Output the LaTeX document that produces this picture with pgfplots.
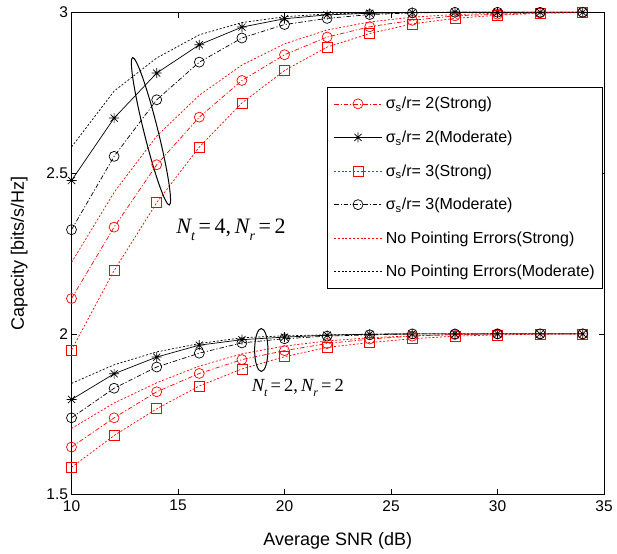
\documentclass[border=0pt]{standalone}
\usepackage{pgfplots}
\usepackage{pgfplotstable}
\pgfplotsset{compat=1.18}
\usepackage{fontspec}
\setmainfont{Liberation Sans}
\newfontfamily\serifit{Liberation Serif}
\usetikzlibrary{shapes.geometric}

% eight-ray star marker
\pgfdeclareplotmark{mstar}{%
  \pgfpathmoveto{\pgfqpoint{-\pgfplotmarksize}{0pt}}%
  \pgfpathlineto{\pgfqpoint{\pgfplotmarksize}{0pt}}%
  \pgfpathmoveto{\pgfqpoint{0pt}{-\pgfplotmarksize}}%
  \pgfpathlineto{\pgfqpoint{0pt}{\pgfplotmarksize}}%
  \pgfpathmoveto{\pgfqpoint{-.707\pgfplotmarksize}{-.707\pgfplotmarksize}}%
  \pgfpathlineto{\pgfqpoint{.707\pgfplotmarksize}{.707\pgfplotmarksize}}%
  \pgfpathmoveto{\pgfqpoint{-.707\pgfplotmarksize}{.707\pgfplotmarksize}}%
  \pgfpathlineto{\pgfqpoint{.707\pgfplotmarksize}{-.707\pgfplotmarksize}}%
  \pgfusepathqstroke}

% Capacity vs. average SNR, N_t = 4, N_r = 2
\pgfplotstableread{
snr  s2s   s2m   s3s   s3m   npes  npem
10   2.110 2.477 1.950 2.324 2.222 2.581
12   2.332 2.671 2.197 2.552 2.440 2.755
14   2.526 2.811 2.408 2.728 2.615 2.858
16   2.674 2.899 2.581 2.845 2.742 2.930
18   2.788 2.954 2.718 2.920 2.836 2.968
20   2.868 2.980 2.819 2.962 2.902 2.986
22   2.923 2.992 2.892 2.981 2.945 2.995
24   2.955 2.997 2.934 2.993 2.970 2.998
26   2.975 2.999 2.964 2.998 2.985 3.000
28   2.989 3.000 2.981 3.000 2.993 3.000
30   2.994 3.000 2.991 3.000 2.997 3.000
32   2.998 3.000 2.997 3.000 2.999 3.000
34   3.000 3.000 2.999 3.000 3.000 3.000
}\tabfour

% Capacity vs. average SNR, N_t = 2, N_r = 2
\pgfplotstableread{
snr  s2s   s2m   s3s   s3m   npes  npem
10   1.648 1.796 1.585 1.739 1.706 1.846
12   1.739 1.876 1.684 1.831 1.785 1.904
14   1.820 1.928 1.767 1.897 1.848 1.944
16   1.877 1.965 1.838 1.940 1.900 1.970
18   1.920 1.982 1.891 1.972 1.938 1.988
20   1.948 1.990 1.929 1.985 1.962 1.994
22   1.970 1.996 1.958 1.993 1.978 1.997
24   1.984 1.999 1.973 1.997 1.988 1.999
26   1.993 2.000 1.985 2.000 1.994 2.000
28   1.998 2.000 1.993 2.000 1.998 2.000
30   2.000 2.000 1.997 2.000 2.000 2.000
32   2.000 2.000 1.999 2.000 2.000 2.000
34   2.000 2.000 2.000 2.000 2.000 2.000
}\tabtwo

\pgfplotsset{
  dashdot/.style={dash pattern=on 4.5pt off 2pt on 1.2pt off 2pt},
  mdot/.style={dash pattern=on 2pt off 1.8pt},
  s2strong/.style={red, line width=0.7pt, dashdot, mark=o, mark size=5pt, mark options={solid}},
  s2mod/.style={black, line width=0.7pt, solid, mark=mstar, mark size=5pt, mark options={solid}},
  s3strong/.style={red, line width=0.7pt, mdot, mark=square, mark size=5pt, mark options={solid}},
  s3mod/.style={black, line width=0.7pt, dashdot, mark=o, mark size=5pt, mark options={solid}},
  npestrong/.style={red, line width=0.7pt, mdot, no markers},
  npemod/.style={black, line width=0.7pt, mdot, no markers},
}

\begin{document}
\begin{tikzpicture}
\begin{axis}[
  scale only axis,
  width=532.5pt, height=482.4pt,
  xmin=10, xmax=35, ymin=1.5, ymax=3,
  xtick={10,15,20,25,30,35},
  ytick={1.5,2,2.5,3},
  yticklabels={1.5,2,2.5,3},
  tick align=inside, tick pos=both,
  major tick length=5.5pt,
  every tick/.style={black, line width=0.6pt},
  axis line style={line width=0.8pt},
  /pgf/number format/assume math mode=true,
  ticklabel style={font=\fontsize{15.5}{17}\selectfont},
  xticklabel style={yshift=-2pt},
  label style={font=\fontsize{18}{20}\selectfont},
  xlabel={Average SNR (dB)},
  ylabel={Capacity [bits/s/Hz]},
  xlabel shift=14pt,
  ylabel shift=12pt,
  clip=false,
  legend cell align=left,
  legend image code/.code={\draw[mark repeat=2,mark phase=2,#1] plot coordinates {(0pt,0pt) (24pt,0pt) (48pt,0pt)};},
  legend style={
    at={(rel axis cs:0.9975,0.8452)}, anchor=north east,
    font=\fontsize{16}{18}\selectfont,
    draw=black, line width=0.7pt,
    inner xsep=6pt, inner ysep=8.5pt,
    row sep=17.5pt, column sep=2pt,
    nodes={inner sep=1.5pt},
  },
]
\addplot[s2strong] table[x=snr, y=s2s] {\tabfour};
\addlegendentry{σ\textsubscript{s}/r= 2(Strong)}
\addplot[s2mod] table[x=snr, y=s2m] {\tabfour};
\addlegendentry{σ\textsubscript{s}/r= 2(Moderate)}
\addplot[s3strong] table[x=snr, y=s3s] {\tabfour};
\addlegendentry{σ\textsubscript{s}/r= 3(Strong)}
\addplot[s3mod] table[x=snr, y=s3m] {\tabfour};
\addlegendentry{σ\textsubscript{s}/r= 3(Moderate)}
\addplot[npestrong] table[x=snr, y=npes] {\tabfour};
\addlegendentry{No Pointing Errors(Strong)}
\addplot[npemod] table[x=snr, y=npem] {\tabfour};
\addlegendentry{No Pointing Errors(Moderate)}

\addplot[s2strong, forget plot] table[x=snr, y=s2s] {\tabtwo};
\addplot[s2mod, forget plot] table[x=snr, y=s2m] {\tabtwo};
\addplot[s3strong, forget plot] table[x=snr, y=s3s] {\tabtwo};
\addplot[s3mod, forget plot] table[x=snr, y=s3m] {\tabtwo};
\addplot[npestrong, forget plot] table[x=snr, y=npes] {\tabtwo};
\addplot[npemod, forget plot] table[x=snr, y=npem] {\tabtwo};

% grouping ellipses and antenna labels
\node[draw, ellipse, line width=1pt, minimum width=152pt, minimum height=14pt,
      inner sep=0pt, rotate=-76] at (axis cs:13.73,2.630) {};
\node[draw, ellipse, line width=1pt, minimum width=13.3pt, minimum height=43pt,
      inner sep=0pt] at (axis cs:18.91,1.950) {};
\node[font=\serifit\fontsize{22}{22}\selectfont] at (axis cs:17.49,2.323)
  {\itshape N\raisebox{-0.3em}{\fontsize{14}{14}\selectfont t}\upshape\,=\,4,\,\itshape N\raisebox{-0.3em}{\fontsize{14}{14}\selectfont r}\upshape\,=\,2};
\node[font=\serifit\fontsize{18.5}{18.5}\selectfont] at (axis cs:20.63,1.832)
  {\itshape N\raisebox{-0.3em}{\fontsize{12}{12}\selectfont t}\upshape\,=\,2,\,\itshape N\raisebox{-0.3em}{\fontsize{12}{12}\selectfont r}\upshape\,=\,2};

% page extent
\path (rel axis cs:-0.1343,-0.1209) rectangle (rel axis cs:1.0244,1.0255);
\end{axis}
\end{tikzpicture}
\end{document}
